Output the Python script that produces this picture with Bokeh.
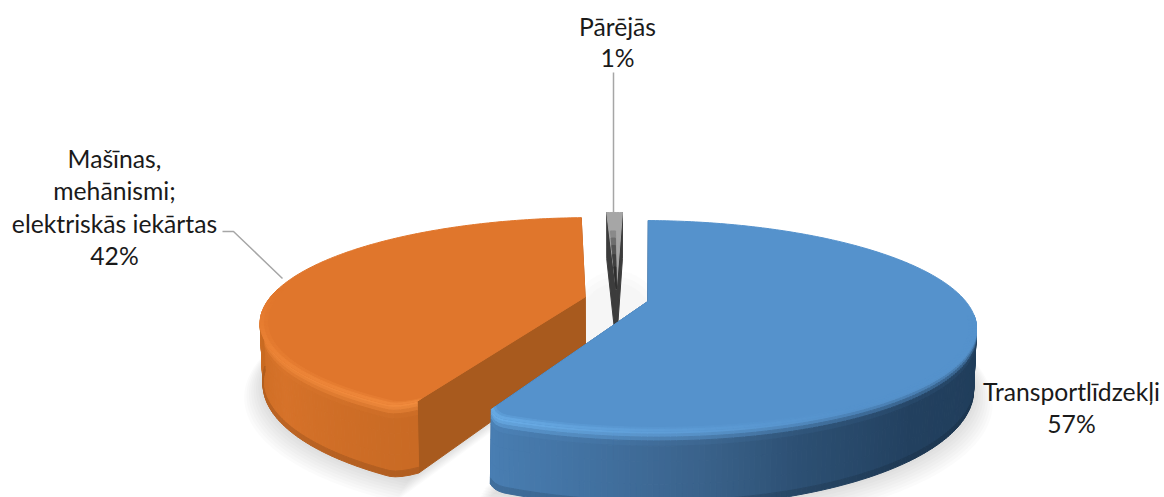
import numpy as np
from bokeh.plotting import figure
from bokeh.models import Range1d, ColumnDataSource
from bokeh.core.properties import value
from bokeh.embed import file_html
from bokeh.resources import INLINE

# ---- data
categories = ["Transportlīdzekļi", "Mašīnas, mehānismi; elektriskās iekārtas", "Pārējās"]
shares = [56.7, 42.3, 1.0]
label_lines = [["Transportlīdzekļi"], ["Mašīnas,", "mehānismi;", "elektriskās iekārtas"], ["Pārējās"]]

# ---- view geometry of the 3D pie
first_angle = 1.4
explode = 0.1018
cx, cy, a, b, k, h, taper = 616.0, 298.5, 316.0, 98.5, 0.2308, 58.0, 0.008
corner_span = 3.5


def hex2rgb(c):
    return np.array([int(c[i:i + 2], 16) for i in (1, 3, 5)], float)


def mix(c1, c2, t):
    r = np.asarray(c1) * (1 - t) + np.asarray(c2) * t
    return "#%02x%02x%02x" % tuple(int(round(v)) for v in r)


def ramp(theta, stops):
    ts = [s[0] for s in stops]
    rgb = np.array([hex2rgb(s[1]) for s in stops])
    return np.array([np.interp(theta, ts, rgb[:, i]) for i in range(3)])


def project(X, Y, z=0.0):
    w = 1 + k * Y
    s = 1 - taper * z
    return cx + a * X / w * s, cy - b * Y / w + h * z / w


styles = [
    dict(top="#5592cc", cut="#2f5d8c", corner=lambda t, t0, t1: t1 - t, c0=.04, c1=.03,
         wall=[(100, "#1f3c59"), (138, "#22405f"), (159, "#2c4f72"), (174, "#3a628b"), (188, "#41709f"), (207, "#4a80b5")],
         high=[(150, "#5592cc"), (185, "#62a2dc"), (207, "#6cb0ea")]),
    dict(top="#e0762c", cut="#a85a1e", corner=lambda t, t0, t1: t - t0, c0=.05, c1=.05,
         wall=[(205, "#c96a24"), (235, "#d67229"), (262, "#c96b22"), (285, "#c4661f")],
         high=[(205, "#f28c3e"), (240, "#ee8638"), (262, "#e67c30"), (275, "#e0762c")]),
    dict(top="#a6a6a6", cut="#3c3c3c", corner=lambda t, t0, t1: 1e3, c0=0, c1=0,
         wall=[(0, "#5a5a5a"), (360, "#5a5a5a")],
         high=[(0, "#a6a6a6"), (360, "#a6a6a6")]),
]

wall_bands = [0, .04, .08, .13, .2, .4, .7, .92, 1]
xs, ys, cols = [], [], []
sx_shadow, sy_shadow = [], []


def add(px, py, col):
    xs.append(list(px))
    ys.append(list(py))
    cols.append(col)


ang = first_angle
spans = []
for v in shares:
    spans.append((ang, ang + v * 3.6))
    ang += v * 3.6

# paint order: far sliver first, nearest slice last
for idx in (2, 1, 0):
    t0, t1 = spans[idx]
    st = styles[idx]
    mid = np.radians((t0 + t1) / 2)
    ox, oy = explode * np.sin(mid), explode * np.cos(mid)
    th = np.linspace(t0, t1, max(6, int((t1 - t0) / 0.8)))
    sn, cs = np.sin(np.radians(th)), np.cos(np.radians(th))


    def rad(t, z):
        # the front corner of a slice is slightly rounded off
        d = max(0.0, 1 - st["corner"](t, t0, t1) / corner_span)
        return 1 - (st["c0"] + (st["c1"] - st["c0"]) * z) * d * d


    def rim(j, z, g=1.0):
        r = rad(th[j], z) * g
        return ox + r * sn[j], oy + r * cs[j]


    # soft shadow under the slice
    for i in range(9):
        g = 1 + 0.007 * i
        rx = np.r_[ox, ox + g * sn]
        ry = np.r_[oy, oy + g * cs]
        px, py = project(rx, ry, 1.0 + 0.02 * i)
        sx_shadow.append(list(px))
        sy_shadow.append(list(py))

    # flat cut faces
    for j in (0, len(th) - 1):
        e0 = rim(j, 0); e1 = rim(j, 1)
        p0 = project(ox, oy, 0); p1 = project(*e0, 0)
        p2 = project(*e1, 1); p3 = project(ox, oy, 1)
        add([p0[0], p1[0], p2[0], p3[0]], [p0[1], p1[1], p2[1], p3[1]], st["cut"])

    # rounded outer wall, in bands from the highlighted lip to the foot
    for j in range(len(th) - 1):
        tm = (th[j] + th[j + 1]) / 2
        if not 98 < tm % 360 < 262:
            continue
        wc = ramp(tm, st["wall"])
        hc = ramp(tm, st["high"])
        for m in range(len(wall_bands) - 1):
            z0, z1 = wall_bands[m], wall_bands[m + 1]
            zm = (z0 + z1) / 2
            if zm < .2:
                f = zm / .2
                rgb = hc * (1 - f * f * (3 - 2 * f)) + wc * (f * f * (3 - 2 * f))
            elif zm > .92:
                rgb = wc * 0.88
            else:
                rgb = wc
            p0 = project(*rim(j, z0), z0); p1 = project(*rim(j + 1, z0), z0)
            p2 = project(*rim(j + 1, z1), z1); p3 = project(*rim(j, z1), z1)
            add([p0[0], p1[0], p2[0], p3[0]], [p0[1], p1[1], p2[1], p3[1]], mix(rgb, rgb, 0))

    # top face
    ring = [rim(j, 0) for j in range(len(th))]
    px, py = project(np.r_[ox, [q[0] for q in ring]], np.r_[oy, [q[1] for q in ring]])
    add(px, py, st["top"])

    # lip of the top face, fading into the flat colour
    for g0, g1, f in ((.978, .99, .35), (.99, 1.0, .8)):
        for j in range(len(th) - 1):
            tm = (th[j] + th[j + 1]) / 2
            if not 98 < tm % 360 < 275:
                continue
            c = mix(hex2rgb(st["top"]), ramp(tm, st["high"]), f)
            a0, a1, a2, a3 = rim(j, 0, g0), rim(j + 1, 0, g0), rim(j + 1, 0, g1), rim(j, 0, g1)
            pp = project(np.array([a0[0], a1[0], a2[0], a3[0]]), np.array([a0[1], a1[1], a2[1], a3[1]]))
            add(pp[0], pp[1], c)

    # grey sliver: dark crease running to its tip
    if idx == 2:
        for g1, f0, f1, col in ((.72, .12, .55, "#8a8a8a"), (.62, .12, .52, "#6e6e6e"), (.52, .12, .5, "#555555"),
                                (.4, .1, .5, "#404040"), (.25, .1, .5, "#2e2e2e")):
            c0, c1 = t0 + (t1 - t0) * f0, t0 + (t1 - t0) * f1
            qx = [ox, ox + g1 * np.sin(np.radians(c0)), ox + g1 * np.sin(np.radians(c1))]
            qy = [oy, oy + g1 * np.cos(np.radians(c0)), oy + g1 * np.cos(np.radians(c1))]
            pp = project(np.array(qx), np.array(qy))
            add(pp[0], pp[1], col)

p = figure(width=1164, height=497, x_range=Range1d(0, 1164), y_range=Range1d(497, 0),
           output_backend="svg", toolbar_location=None, min_border=0)
p.axis.visible = False
p.grid.visible = False
p.outline_line_color = None
p.background_fill_color = "white"

# faint shadow seen through the gap at the centre
for i, (rx, ry) in enumerate([(50, 60), (45, 54), (40, 48)]):
    p.ellipse(x=[cx], y=[cy + 32], width=[2 * rx], height=[2 * ry], fill_color="#9a9a9a", fill_alpha=0.03, line_color=None)

p.patches(sx_shadow, sy_shadow, fill_color="#707070", fill_alpha=0.03, line_color=None)
src = ColumnDataSource(dict(xs=xs, ys=ys, c=cols))
p.patches("xs", "ys", source=src, fill_color="c", line_color="c", line_width=1.0)

# leader lines
p.line([613, 613], [72, 212], line_color="#a6a6a6", line_width=1.5)
p.line([222, 233, 282], [231, 231, 278], line_color="#a6a6a6", line_width=1.5)

# labels
pct = ["%d%%" % round(v) for v in shares]
label_x = [1071, 114, 617]
label_y = [[391, 423], [158, 190, 223, 255], [26, 57]]
tx, ty, tt = [], [], []
for i in range(3):
    lines = label_lines[i] + [pct[i]]
    for ln, yy in zip(lines, label_y[i]):
        tx.append(label_x[i]); ty.append(yy); tt.append(ln)
p.text(x=tx, y=ty, text=tt, text_font=value("Lato"), text_font_size="24.7px", text_color="#1a1a1a",
       text_align="center", text_baseline="middle")

open("out.html", "w").write(file_html(p, INLINE))
